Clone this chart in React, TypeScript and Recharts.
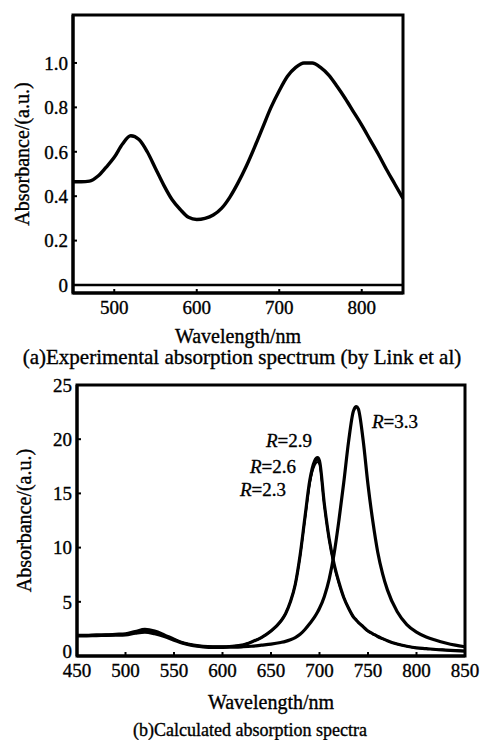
import React from 'react';
import {
  LineChart,
  Line,
  XAxis,
  YAxis,
  ReferenceLine,
  ReferenceArea,
} from 'recharts';

// (a) experimental spectrum
const wavelengthA = [
  450, 460, 470, 480, 490, 500, 510, 520, 530, 540, 550, 560, 570, 580, 590, 600, 610, 620, 630, 640,
  650, 660, 670, 680, 690, 700, 710, 720, 730, 740, 750, 760, 770, 780, 790, 800, 810, 820, 830, 840, 850,
];
const absorbanceA = [
  0.465, 0.465, 0.468, 0.49, 0.53, 0.575, 0.635, 0.672, 0.655, 0.6, 0.525, 0.45, 0.385, 0.34, 0.305, 0.295,
  0.3, 0.315, 0.345, 0.395, 0.46, 0.535, 0.62, 0.71, 0.8, 0.875, 0.94, 0.98, 1.0, 1.0, 0.98, 0.945, 0.895,
  0.84, 0.78, 0.72, 0.655, 0.59, 0.52, 0.455, 0.39,
];
const ticksXA = [500, 600, 700, 800];
const ticksYA = [0, 0.2, 0.4, 0.6, 0.8, 1.0];

// (b) calculated spectra
const wavelengthB = [
  450, 460, 470, 480, 490, 500, 510, 520, 530, 540, 550, 560, 570, 580, 590, 600, 610, 620, 630, 640,
  650, 660, 665, 670, 675, 680, 685, 690, 695, 698, 700, 705, 710, 715, 720, 725, 730, 735, 738, 740,
  745, 750, 755, 760, 765, 770, 780, 790, 800, 810, 820, 830, 840, 850,
];
const r23 = [
  1.9, 1.9, 1.92, 1.95, 1.98, 2.0, 2.12, 2.25, 2.15, 1.88, 1.52, 1.2, 1.0, 0.88, 0.85, 0.85, 0.9, 1.0,
  1.3, 1.7, 2.3, 3.2, 3.9, 5.0, 6.6, 9.2, 12.6, 15.9, 17.6, 17.9, 17.7, 13.9, 10.7, 8.4, 6.7, 5.4, 4.4,
  3.6, 3.3, 3.1, 2.7, 2.3, 2.05, 1.8, 1.6, 1.4, 1.1, 0.9, 0.75, 0.68, 0.6, 0.55, 0.5, 0.45,
];
const r26 = [
  1.9, 1.9, 1.93, 1.95, 1.99, 2.02, 2.18, 2.35, 2.22, 1.92, 1.54, 1.2, 1.0, 0.88, 0.85, 0.85, 0.9, 1.0,
  1.3, 1.7, 2.3, 3.2, 3.9, 5.0, 6.6, 9.25, 12.7, 16.0, 17.8, 18.1, 17.8, 13.95, 10.75, 8.45, 6.75, 5.4,
  4.4, 3.6, 3.3, 3.1, 2.7, 2.3, 2.05, 1.8, 1.6, 1.4, 1.1, 0.9, 0.75, 0.68, 0.6, 0.55, 0.5, 0.45,
];
const r29 = [
  1.9, 1.9, 1.95, 1.95, 2.0, 2.05, 2.25, 2.45, 2.3, 1.95, 1.55, 1.2, 1.0, 0.88, 0.85, 0.85, 0.9, 1.0,
  1.3, 1.7, 2.3, 3.2, 3.9, 5.0, 6.6, 9.3, 12.8, 16.2, 18.0, 18.3, 18.0, 14.0, 10.8, 8.5, 6.8, 5.4, 4.4,
  3.6, 3.3, 3.1, 2.7, 2.3, 2.05, 1.8, 1.6, 1.4, 1.1, 0.9, 0.75, 0.68, 0.6, 0.55, 0.5, 0.45,
];
const r33 = [
  1.85, 1.86, 1.88, 1.9, 1.92, 1.95, 2.1, 2.2, 2.05, 1.8, 1.45, 1.15, 0.95, 0.85, 0.8, 0.8, 0.82, 0.85,
  0.9, 1.0, 1.1, 1.25, 1.35, 1.5, 1.7, 2.0, 2.45, 3.0, 3.6, 4.05, 4.4, 5.5, 7.1, 9.4, 12.5, 16.0, 19.8,
  22.6, 23.0, 22.8, 19.9, 15.8, 12.4, 9.6, 7.6, 6.1, 4.1, 2.9, 2.2, 1.75, 1.45, 1.2, 1.0, 0.85,
];
const ticksXB = [450, 500, 550, 600, 650, 700, 750, 800, 850];
const ticksYB = [0, 5, 10, 15, 20, 25];

const dataA = wavelengthA.map((w, i) => ({ w, a: absorbanceA[i] }));
const dataB = wavelengthB.map((w, i) => ({ w, r23: r23[i], r26: r26[i], r29: r29[i], r33: r33[i] }));

const FONT = '"Liberation Serif", "Times New Roman", serif';
const tickStyle = { fill: '#000', fontSize: 19, fontFamily: FONT, stroke: '#000', strokeWidth: 0.35 };
const axisLine = { stroke: '#000', strokeWidth: 3 };
const tickLine = { stroke: '#000', strokeWidth: 2 };

const labelStyle: React.CSSProperties = {
  position: 'absolute',
  fontFamily: FONT,
  fontSize: 19,
  color: '#000',
  whiteSpace: 'nowrap',
  lineHeight: 1,
  WebkitTextStroke: '0.35px #000',
};

const RLabel = ({ x, y, v }: { x: number; y: number; v: string }) => (
  <div style={{ ...labelStyle, left: x, top: y }}>
    <i>R</i>={v}
  </div>
);

// y tick for (b): the "0" sits a bit above the axis corner
const YTickB = (props: any) => {
  const { x, y, payload } = props;
  return (
    <text x={x} y={y + (payload.value === 0 ? -5 : 0)} dy="0.355em" textAnchor="end" {...tickStyle}>
      {payload.value}
    </text>
  );
};

export default function App() {
  return (
    <div style={{ position: 'absolute', left: 0, top: 0, width: 480, height: 740, background: '#fff' }}>
      <div style={{ position: 'absolute', left: 0, top: 0 }}>
        <LineChart width={480} height={352} data={dataA} margin={{ top: 15, right: 77, left: 0, bottom: 0 }}>
          <XAxis
            dataKey="w"
            type="number"
            domain={[450, 850]}
            ticks={ticksXA}
            allowDataOverflow
            axisLine={axisLine}
            tickLine={tickLine}
            tickSize={-4}
            tickMargin={12}
            tick={tickStyle}
            height={59}
            label={{ value: 'Wavelength/nm', position: 'insideBottom', offset: 9, style: { ...tickStyle, fontSize: 20 } }}
          />
          <YAxis
            type="number"
            domain={[-0.036, 1.216]}
            ticks={ticksYA}
            allowDataOverflow
            axisLine={axisLine}
            tickLine={tickLine}
            tickSize={-4}
            tickMargin={9}
            tick={tickStyle}
            tickFormatter={(v: number) => (v === 0 ? '0' : v.toFixed(1))}
            width={73}
            label={{ value: 'Absorbance/(a.u.)', angle: -90, position: 'insideLeft', offset: 22, style: { ...tickStyle, fontSize: 20, textAnchor: 'middle' } }}
          />
          <ReferenceArea x1={450} x2={850} y1={-0.036} y2={1.216} fill="none" stroke="#000" strokeWidth={3} ifOverflow="visible" />
          <ReferenceLine y={0} stroke="#000" strokeWidth={2.5} />
          <Line dataKey="a" type="monotone" stroke="#000" strokeWidth={3.4} dot={false} isAnimationActive={false} />
        </LineChart>
      </div>
      <div style={{ ...labelStyle, left: 0, width: 484, textAlign: 'center', top: 347, fontSize: 21 }}>
        (a)Experimental absorption spectrum (by Link et al)
      </div>

      <div style={{ position: 'absolute', left: 0, top: 370 }}>
        <LineChart width={480} height={345} data={dataB} margin={{ top: 15, right: 15, left: 0, bottom: 0 }}>
          <XAxis
            dataKey="w"
            type="number"
            domain={[450, 850]}
            ticks={ticksXB}
            allowDataOverflow
            axisLine={axisLine}
            tickLine={tickLine}
            tickSize={-4}
            tickMargin={12}
            tick={tickStyle}
            height={59}
            label={{ value: 'Wavelength/nm', position: 'insideBottom', offset: 6, style: { ...tickStyle, fontSize: 20 } }}
          />
          <YAxis
            type="number"
            domain={[0, 25]}
            ticks={ticksYB}
            allowDataOverflow
            axisLine={axisLine}
            tickLine={tickLine}
            tickSize={-4}
            tickMargin={9}
            tick={<YTickB />}
            width={77}
            label={{ value: 'Absorbance/(a.u.)', angle: -90, position: 'insideLeft', offset: 24, style: { ...tickStyle, fontSize: 20, textAnchor: 'middle' } }}
          />
          <ReferenceArea x1={450} x2={850} y1={0} y2={25} fill="none" stroke="#000" strokeWidth={3} ifOverflow="visible" />
          <Line dataKey="r23" type="monotone" stroke="#000" strokeWidth={2} dot={false} isAnimationActive={false} />
          <Line dataKey="r26" type="monotone" stroke="#000" strokeWidth={2} dot={false} isAnimationActive={false} />
          <Line dataKey="r29" type="monotone" stroke="#000" strokeWidth={3.2} dot={false} isAnimationActive={false} />
          <Line dataKey="r33" type="monotone" stroke="#000" strokeWidth={3.2} dot={false} isAnimationActive={false} />
        </LineChart>
      </div>
      <RLabel x={266} y={431} v="2.9" />
      <RLabel x={250} y={457} v="2.6" />
      <RLabel x={240} y={480} v="2.3" />
      <RLabel x={372} y={412} v="3.3" />
      <div style={{ ...labelStyle, left: 0, width: 500, textAlign: 'center', top: 721, fontSize: 18 }}>
        (b)Calculated absorption spectra
      </div>
    </div>
  );
}
